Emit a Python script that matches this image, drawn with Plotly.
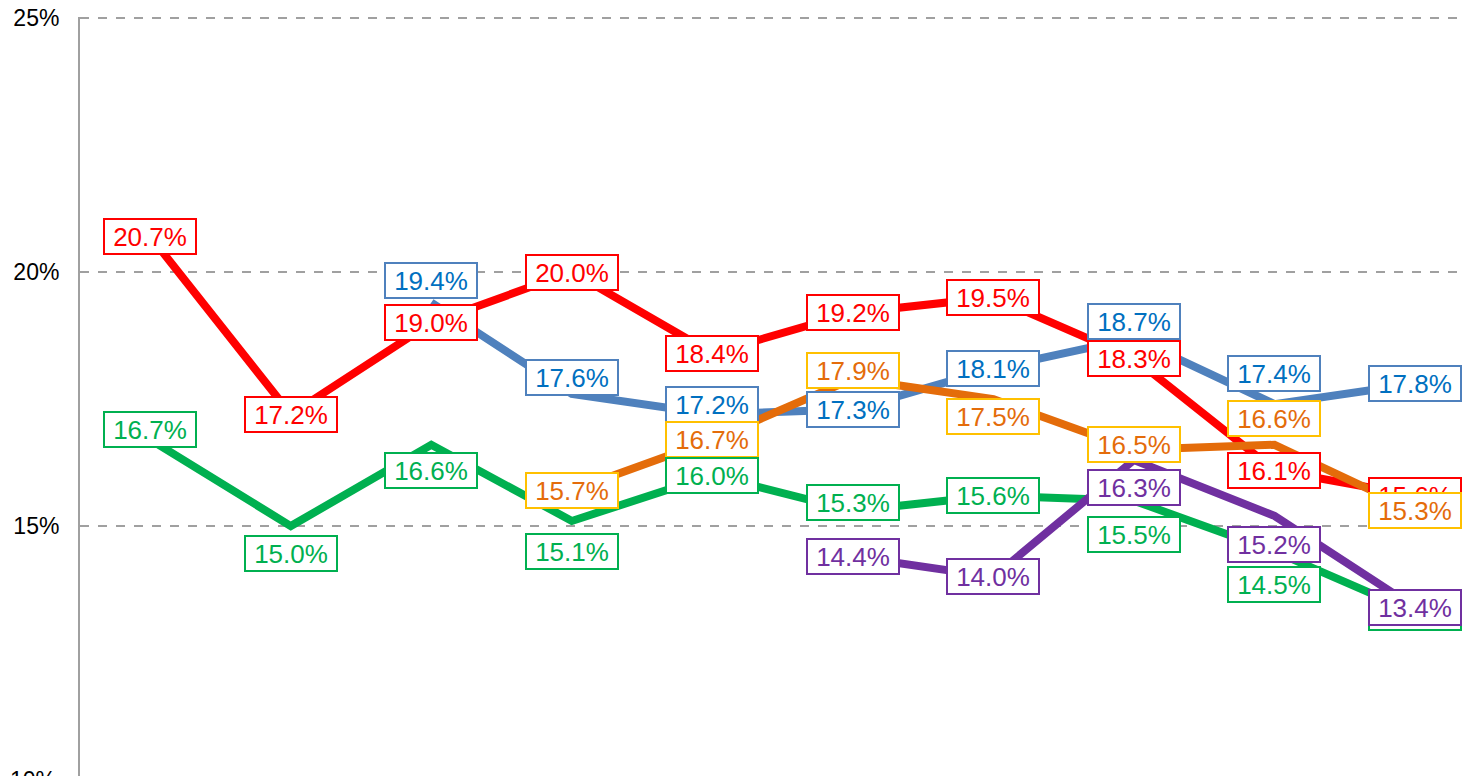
import plotly.graph_objects as go

# categories (axis labels are cut off in the reference; use positions 0..9)
categories = list(range(10))

red_vals = [20.7, 17.2, 19.0, 20.0, 18.4, 19.2, 19.5, 18.3, 16.1, 15.6]
green_vals = [16.7, 15.0, 16.6, 15.1, 16.0, 15.3, 15.6, 15.5, 14.5, 13.3]
blue_vals = [None, None, 19.4, 17.6, 17.2, 17.3, 18.1, 18.7, 17.4, 17.8]
orange_vals = [None, None, None, 15.7, 16.7, 17.9, 17.5, 16.5, 16.6, 15.3]
purple_vals = [None, None, None, None, None, 14.4, 14.0, 16.3, 15.2, 13.4]

# label vertical offsets in pixels (style only)
red_shift = [0, 0, 0, 0, 0, 0, 0, 0, 0, 0]
green_shift = [10, -27, -26, -31, 0, 8, 0, -34, -33, 0]
blue_shift = [0, 0, 22, 16, 10, 0, 0, 17, 31, 0]
orange_shift = [0, 0, 0, 0, 0, 8, -17, 5, 26, 0]
purple_shift = [0, 0, 0, 0, 0, 0, 0, -27, -29, 0]

series = [
    # name, values, line colour, text colour, border colour, shifts
    ("blue", blue_vals, "#4F81BD", "#0070C0", "#4F81BD", blue_shift),
    ("red", red_vals, "#FF0000", "#FF0000", "#FF0000", red_shift),
    ("orange", orange_vals, "#E46C0A", "#E46C0A", "#FFC000", orange_shift),
    ("green", green_vals, "#00B050", "#00B050", "#00B050", green_shift),
    ("purple", purple_vals, "#7030A0", "#7030A0", "#7030A0", purple_shift),
]

FONT = "Arial, Liberation Sans, sans-serif"

fig = go.Figure()
for name, vals, lc, tc, bc, sh in series:
    fig.add_trace(go.Scatter(x=categories, y=vals, mode="lines", name=name,
                             line=dict(color=lc, width=8), connectgaps=False,
                             showlegend=False, hoverinfo="skip"))

annotations = []
for name, vals, lc, tc, bc, sh in series:
    for x, v, s in zip(categories, vals, sh):
        if v is None:
            continue
        annotations.append(dict(
            x=x, y=v, xref="x", yref="y", text=f"{v:.1f}%", showarrow=False,
            yshift=s, font=dict(family=FONT, size=26, color=tc),
            bgcolor="white", bordercolor=bc, borderwidth=2, borderpad=1,
            width=88, height=31, align="center",
            xanchor="center", yanchor="middle"))

# partially visible bottom tick label (sits just below the plot's lower edge)
annotations.append(dict(x=0, y=0, xref="paper", yref="paper", text="10%",
                        showarrow=False, xanchor="right", yanchor="middle",
                        xshift=-22, yshift=-4,
                        font=dict(family=FONT, size=23, color="black")))

# the page body adds an 8px margin, so the figure is 8px smaller than the window
fig.update_layout(
    width=1466, height=768,
    margin=dict(l=72, r=0, t=9, b=0, autoexpand=False),
    paper_bgcolor="white", plot_bgcolor="white",
    annotations=annotations,
    xaxis=dict(range=[-0.5, 9.42], showgrid=False, zeroline=False,
               showticklabels=False, showline=False, ticks="", automargin=False),
    yaxis=dict(range=[10.08, 25.02], tickvals=[15, 20, 25],
               ticktext=["15%", "20%", "25%"], automargin=False,
               ticklabeloverflow="allow",
               showgrid=True, gridcolor="#A0A0A0", griddash="dash", gridwidth=2,
               showline=True, linecolor="#A0A0A0", linewidth=2,
               zeroline=False, ticks="", ticklabelstandoff=14,
               tickfont=dict(family=FONT, size=23, color="black")),
)

fig.write_html("out.html")
